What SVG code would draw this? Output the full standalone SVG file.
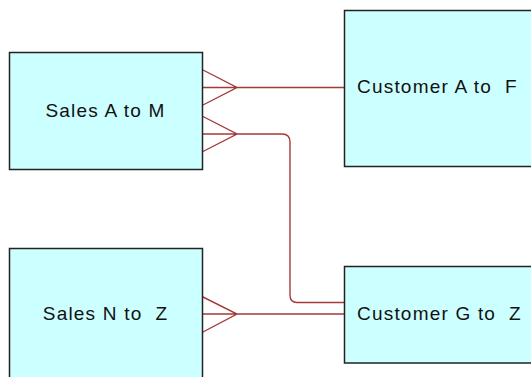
<svg xmlns="http://www.w3.org/2000/svg" width="531" height="377" viewBox="0 0 531 377">
<style>
.box{fill:#ccffff;stroke:#222;stroke-width:1.5}
.lbl{font-family:"Liberation Sans",Arial,sans-serif;font-size:19px;fill:#111;letter-spacing:1.2px;white-space:pre}
.c{fill:none;stroke:#a33a3a;stroke-width:1.4}
</style>
<rect width="531" height="377" fill="#fff"/>
<g id="connectors">
<path class="c" d="M202,69.5 L237,87.5 L202,105.5 M202,87.5 H344"/>
<path class="c" d="M202,116 L237,134 L202,152 M202,134 H282 Q290,134 290,142 V295 Q290,302.5 297,302.5 H344"/>
<path class="c" d="M202,296.5 L237,314 L202,332.5 M202,314 H344"/>
</g>
<g id="salesAM">
<rect class="box" x="9.5" y="52.5" width="193" height="117"/>
<text class="lbl" x="105.5" y="117" text-anchor="middle">Sales A to M</text>
</g>
<g id="salesNZ">
<rect class="box" x="9.5" y="248.5" width="193" height="140"/>
<text class="lbl" x="105.5" y="319.5" text-anchor="middle" xml:space="preserve">Sales N to  Z</text>
</g>
<g id="custAF">
<rect class="box" x="344.5" y="10.5" width="200" height="156"/>
<text class="lbl" x="357" y="93" xml:space="preserve">Customer A to  F</text>
</g>
<g id="custGZ">
<rect class="box" x="344.5" y="266.5" width="200" height="96.5"/>
<text class="lbl" x="357" y="319.5" xml:space="preserve">Customer G to  Z</text>
</g>
</svg>
